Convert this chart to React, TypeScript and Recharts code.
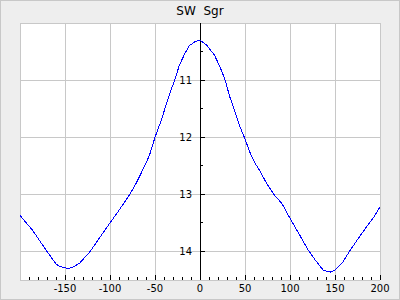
import { LineChart, Line, XAxis, YAxis, CartesianGrid, ReferenceLine, ReferenceDot } from "recharts"

// phase (x) and magnitude (y)
const phase = [-200, -186, -170, -160, -156, -147, -142, -134, -122, -112, -100, -90, -78, -71, -62, -56, -50, -43, -37, -32, -28, -23, -17, -12, -6, 0, 7, 16, 22, 28, 33, 39, 44, 50, 55, 61, 67, 74, 82, 91, 100, 111, 120, 128, 137, 145, 150, 159, 166, 176, 185, 193, 200]
const mag = [13.37, 13.63, 14.0, 14.22, 14.26, 14.3, 14.28, 14.21, 14.0, 13.77, 13.5, 13.28, 13.0, 12.81, 12.52, 12.31, 12.0, 11.7, 11.4, 11.16, 11.0, 10.74, 10.54, 10.4, 10.33, 10.3, 10.38, 10.56, 10.76, 11.0, 11.29, 11.56, 11.8, 12.03, 12.25, 12.45, 12.6, 12.81, 13.0, 13.16, 13.42, 13.72, 13.97, 14.15, 14.33, 14.36, 14.33, 14.18, 14.0, 13.77, 13.57, 13.4, 13.22]

const xTicks = [-190, -180, -170, -160, -150, -140, -130, -120, -110, -100, -90, -80, -70, -60, -50, -40, -30, -20, -10, 0, 10, 20, 30, 40, 50, 60, 70, 80, 90, 100, 110, 120, 130, 140, 150, 160, 170, 180, 190, 200]
const xGrid = [-200, -150, -100, -50, 0, 50, 100, 150, 200]
const yTicks = [11, 12, 13, 14]
const yMinorTicks = [10.5, 11.5, 12.5, 13.5]
const yGrid = [10, 11, 12, 13, 14, 14.5]

const data = phase.map((p, i) => ({ phase: p, mag: mag[i] }))

const font = "DejaVu Sans"

function XTick(props: any) {
  const { x, y, payload } = props
  const v = payload.value
  const major = v % 50 === 0
  return (
    <g>
      <line x1={x} x2={x} y1={y} y2={y - (major ? 5 : 3)} stroke="#000" />
      {major && (
        <text x={x} y={y + 12} textAnchor="middle" fontSize={10} fontFamily={font} fill="#000">
          {v}
        </text>
      )}
    </g>
  )
}

function YTick(props: any) {
  const { cx, cy, value } = props
  return (
    <g>
      <line x1={cx} x2={cx + 5} y1={cy} y2={cy} stroke="#000" />
      <text x={cx - 8} y={cy + 3.5} textAnchor="end" fontSize={10} fontFamily={font} fill="#000">
        {value}
      </text>
    </g>
  )
}

function YMinorTick(props: any) {
  const { cx, cy } = props
  return <line x1={cx} x2={cx + 3} y1={cy} y2={cy} stroke="#000" />
}

export default function App() {
  return (
    <div
      style={{
        position: "absolute",
        left: 0,
        top: 0,
        width: 400,
        height: 300,
        background: "#eeeeee",
        boxShadow: "inset 0 0 0 1px #c8c8c8",
      }}
    >
      <div
        style={{
          position: "absolute",
          top: 4,
          left: 0,
          width: 400,
          textAlign: "center",
          fontFamily: font,
          fontSize: 12,
          lineHeight: "14px",
          whiteSpace: "pre",
          color: "#000",
        }}
      >
        SW  Sgr
      </div>
      <LineChart
        width={400}
        height={300}
        data={data}
        margin={{ top: 23, right: 20, bottom: 0, left: 20 }}
        style={{ position: "absolute", left: 0, top: 0, shapeRendering: "crispEdges" }}
      >
        <CartesianGrid
          stroke="#c8c8c8"
          fill="#ffffff"
          verticalValues={xGrid}
          horizontalValues={yGrid}
        />
        <XAxis
          dataKey="phase"
          type="number"
          domain={[-200, 200]}
          ticks={xTicks}
          interval={0}
          height={20}
          tickSize={0}
          tickMargin={0}
          tickLine={false}
          axisLine={false}
          tick={<XTick />}
        />
        <YAxis hide type="number" reversed domain={[10, 14.5]} ticks={yTicks} allowDataOverflow />
        <ReferenceLine x={0} stroke="#000" />
        {yTicks.map((t) => (
          <ReferenceDot key={t} x={0} y={t} r={0} shape={(p: any) => <YTick {...p} value={t} />} />
        ))}
        {yMinorTicks.map((t) => (
          <ReferenceDot key={t} x={0} y={t} r={0} shape={(p: any) => <YMinorTick {...p} />} />
        ))}
        <Line
          type="linear"
          dataKey="mag"
          stroke="#0000ff"
          strokeWidth={1}
          dot={false}
          isAnimationActive={false}
        />
      </LineChart>
    </div>
  )
}
